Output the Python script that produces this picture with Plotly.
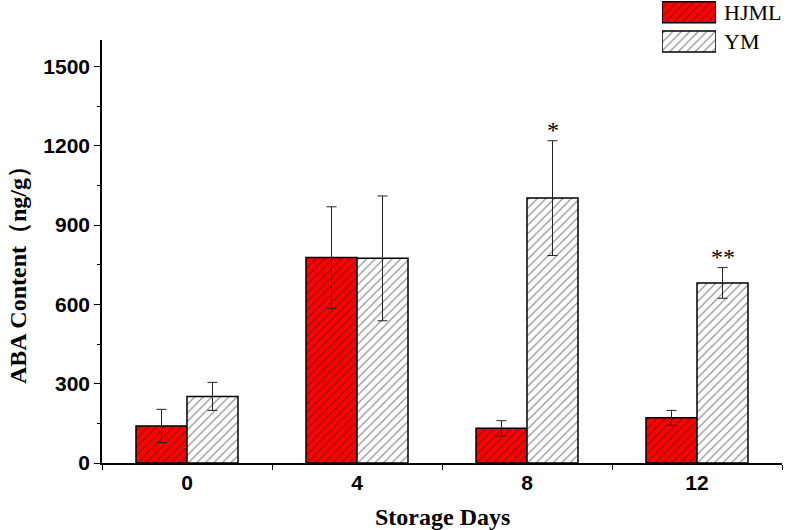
import plotly.graph_objects as go

# storage days and ABA content (ng/g)
days = ["0", "4", "8", "12"]
hjml = [140, 777, 131, 171]
hjml_err = [63, 192, 29, 28]
ym = [252, 774, 1002, 681]
ym_err = [53, 236, 217, 58]
sig_marks = ["", "", "*", "**"]   # significance over the YM bars

series = ["HJML", "YM"]
fills = ["#ff0000", "#ffffff"]

W, H = 787, 530
L, R, T, B = 102, 5, 0, 67
ph = H - T - B   # 463
pw = W - L - R   # 680
bargap = 0.4

hatch = dict(shape="/", fgcolor="#222222", size=6, solidity=0.2, fillmode="overlay")

fig = go.Figure()

for name, vals, errs, col in [("HJML", hjml, hjml_err, fills[0]), ("YM", ym, ym_err, fills[1])]:
    fig.add_trace(go.Bar(
        x=days, y=vals, name=name, showlegend=False,
        marker=dict(color=col, line=dict(color="black", width=1.5), pattern=hatch),
        error_y=dict(type="data", array=errs, color="#222222", thickness=1, width=5),
    ))

# legend swatches drawn as bars in a small corner subplot
for i, (name, col) in enumerate(zip(series, fills)):
    fig.add_trace(go.Bar(
        x=[1], y=[i], base=0, orientation="h", width=0.717, offset=-0.3585,
        xaxis="x2", yaxis="y2", showlegend=False, hoverinfo="skip",
        marker=dict(color=col, line=dict(color="black", width=1.5), pattern=hatch),
    ))
    fig.add_annotation(text=name, xref="paper", yref="paper",
                       x=(722 - L) / pw, y=(ph - (12.2 + 29.3 * i)) / ph,
                       xanchor="left", yanchor="middle", showarrow=False,
                       font=dict(family="Liberation Serif", size=22, color="black"))

# significance stars (category index + offset of the second bar in each group)
for idx, (v, e, s) in enumerate(zip(ym, ym_err, sig_marks)):
    if s:
        fig.add_annotation(text=s, x=idx + (1 - bargap) / 4, y=v + e, xref="x", yref="y",
                           yanchor="middle", yshift=11, showarrow=False,
                           font=dict(family="Liberation Serif", size=24, color="black"))

# axis titles
fig.add_annotation(text="<b>ABA Content（ng/g）</b>", xref="paper", yref="paper",
                   x=(18 - L) / pw, y=(ph - 269) / ph, textangle=-90,
                   xanchor="center", yanchor="middle", showarrow=False,
                   font=dict(family="Liberation Serif", size=24, color="black"))
fig.add_annotation(text="<b>Storage Days</b>", xref="paper", yref="paper",
                   x=0.5, y=(ph - 517) / ph, xanchor="center", yanchor="middle", showarrow=False,
                   font=dict(family="Liberation Serif", size=24, color="black"))

tickfont = dict(family="Liberation Sans", size=21, color="black", weight="bold")

fig.update_layout(
    width=W, height=H,
    margin=dict(l=L, r=R, t=T, b=B),
    paper_bgcolor="white", plot_bgcolor="white",
    barmode="group", bargap=bargap, bargroupgap=0,
    xaxis=dict(type="category", range=[-0.5, 3.5], showline=True, linecolor="black", linewidth=1.5,
               ticks="outside", tickson="boundaries", ticklen=5, tickwidth=1.2, tickcolor="black",
               showgrid=False, zeroline=False, tickfont=tickfont, fixedrange=True),
    yaxis=dict(domain=[0, (ph - 40) / ph], range=[0, 1600], tickvals=[0, 300, 600, 900, 1200, 1500],
               showline=True, linecolor="black", linewidth=1.5,
               ticks="outside", ticklen=6, tickwidth=1.2, tickcolor="black",
               minor=dict(tickvals=[150, 450, 750, 1050, 1350], ticks="outside", ticklen=3, tickcolor="black"),
               showgrid=False, zeroline=False, tickfont=tickfont, fixedrange=True),
    xaxis2=dict(domain=[(662 - L) / pw, (716 - L) / pw], range=[0, 1], anchor="y2", visible=False, fixedrange=True),
    yaxis2=dict(domain=[(ph - 56) / ph, 1], range=[(56 - 12.2) / 29.3, -12.2 / 29.3], anchor="x2",
                visible=False, fixedrange=True),
)

fig.write_html("out.html", config={"displayModeBar": False},
               post_script="document.body.style.margin='0px';")
